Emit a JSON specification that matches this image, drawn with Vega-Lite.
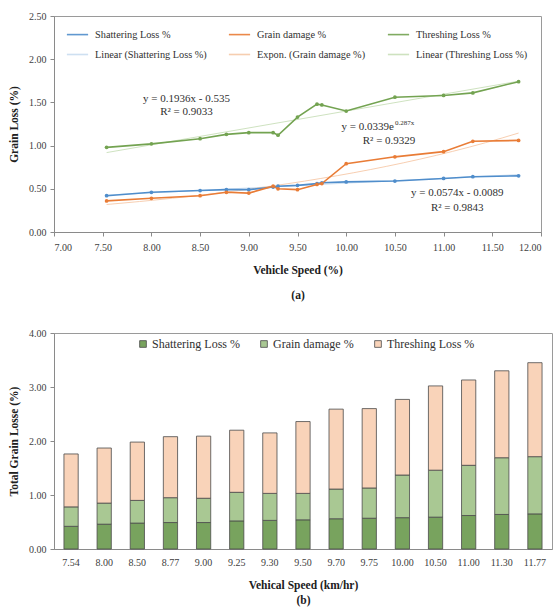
{
  "$schema": "https://vega.github.io/schema/vega-lite/v6.json",
  "padding": {"left": 8, "top": 10, "right": 1, "bottom": 4},
  "config": {
    "font": "Liberation Serif, Times New Roman, serif",
    "view": {"stroke": "#9a9a9a", "strokeWidth": 1},
    "text": {"font": "Liberation Serif, Times New Roman, serif", "fontWeight": "normal"},
    "axis": {
      "grid": false,
      "labelFont": "Liberation Serif, Times New Roman, serif",
      "labelFontSize": 10,
      "labelColor": "#404040",
      "titleFont": "Liberation Serif, Times New Roman, serif",
      "titleFontSize": 11.5,
      "titleFontWeight": "bold",
      "titleColor": "#202020",
      "domainColor": "#8a8a8a",
      "tickColor": "#8a8a8a",
      "tickSize": 4
    },
    "legend": {"labelFont": "Liberation Serif, Times New Roman, serif", "labelFontSize": 10.3, "labelColor": "#303030"}
  },
  "resolve": {"scale": {"color": "independent"}, "legend": {"color": "independent"}},
  "datasets": {
    "loss": [
      {"speed": 7.54, "series": "Shattering Loss %", "value": 0.42},
      {"speed": 8.00, "series": "Shattering Loss %", "value": 0.46},
      {"speed": 8.50, "series": "Shattering Loss %", "value": 0.48},
      {"speed": 8.77, "series": "Shattering Loss %", "value": 0.49},
      {"speed": 9.00, "series": "Shattering Loss %", "value": 0.49},
      {"speed": 9.25, "series": "Shattering Loss %", "value": 0.52},
      {"speed": 9.30, "series": "Shattering Loss %", "value": 0.53},
      {"speed": 9.50, "series": "Shattering Loss %", "value": 0.54},
      {"speed": 9.70, "series": "Shattering Loss %", "value": 0.56},
      {"speed": 9.75, "series": "Shattering Loss %", "value": 0.57},
      {"speed": 10.00, "series": "Shattering Loss %", "value": 0.58},
      {"speed": 10.50, "series": "Shattering Loss %", "value": 0.59},
      {"speed": 11.00, "series": "Shattering Loss %", "value": 0.62},
      {"speed": 11.30, "series": "Shattering Loss %", "value": 0.64},
      {"speed": 11.77, "series": "Shattering Loss %", "value": 0.65},
      {"speed": 7.54, "series": "Grain damage %", "value": 0.36},
      {"speed": 8.00, "series": "Grain damage %", "value": 0.39},
      {"speed": 8.50, "series": "Grain damage %", "value": 0.42},
      {"speed": 8.77, "series": "Grain damage %", "value": 0.46},
      {"speed": 9.00, "series": "Grain damage %", "value": 0.45},
      {"speed": 9.25, "series": "Grain damage %", "value": 0.53},
      {"speed": 9.30, "series": "Grain damage %", "value": 0.50},
      {"speed": 9.50, "series": "Grain damage %", "value": 0.49},
      {"speed": 9.70, "series": "Grain damage %", "value": 0.55},
      {"speed": 9.75, "series": "Grain damage %", "value": 0.56},
      {"speed": 10.00, "series": "Grain damage %", "value": 0.79},
      {"speed": 10.50, "series": "Grain damage %", "value": 0.87},
      {"speed": 11.00, "series": "Grain damage %", "value": 0.93},
      {"speed": 11.30, "series": "Grain damage %", "value": 1.05},
      {"speed": 11.77, "series": "Grain damage %", "value": 1.06},
      {"speed": 7.54, "series": "Threshing  Loss %", "value": 0.98},
      {"speed": 8.00, "series": "Threshing  Loss %", "value": 1.02},
      {"speed": 8.50, "series": "Threshing  Loss %", "value": 1.08},
      {"speed": 8.77, "series": "Threshing  Loss %", "value": 1.13},
      {"speed": 9.00, "series": "Threshing  Loss %", "value": 1.15},
      {"speed": 9.25, "series": "Threshing  Loss %", "value": 1.15},
      {"speed": 9.30, "series": "Threshing  Loss %", "value": 1.12},
      {"speed": 9.50, "series": "Threshing  Loss %", "value": 1.33},
      {"speed": 9.70, "series": "Threshing  Loss %", "value": 1.48},
      {"speed": 9.75, "series": "Threshing  Loss %", "value": 1.47},
      {"speed": 10.00, "series": "Threshing  Loss %", "value": 1.40},
      {"speed": 10.50, "series": "Threshing  Loss %", "value": 1.56},
      {"speed": 11.00, "series": "Threshing  Loss %", "value": 1.58},
      {"speed": 11.30, "series": "Threshing  Loss %", "value": 1.61},
      {"speed": 11.77, "series": "Threshing  Loss %", "value": 1.74}
    ]
  },
  "spacing": 26,
  "vconcat": [
    {
      "width": 487,
      "height": 216,
      "data": {"name": "loss"},
      "encoding": {
        "x": {
          "field": "speed", "type": "quantitative",
          "scale": {"domain": [7, 12], "nice": false, "zero": false},
          "axis": {"values": [7, 7.5, 8, 8.5, 9, 9.5, 10, 10.5, 11, 11.5, 12], "format": ".2f", "labelPadding": 6,
                   "title": ["Vehicle Speed (%)", "(a)"], "titleLineHeight": 25, "titlePadding": 12}
        },
        "y": {
          "field": "value", "type": "quantitative",
          "scale": {"domain": [0, 2.5], "nice": false},
          "axis": {"values": [0, 0.5, 1, 1.5, 2, 2.5], "format": ".2f", "title": "Grain Loss (%)", "titlePadding": 9, "labelPadding": 4}
        }
      },
      "layer": [
        {
          "transform": [{"filter": "datum.series === 'Shattering Loss %'"}, {"regression": "value", "on": "speed", "method": "linear", "extent": [7.54, 11.77]}],
          "mark": {"type": "line", "strokeWidth": 1, "opacity": 0.9},
          "encoding": {"color": {"datum": "Linear (Shattering Loss %)"}}
        },
        {
          "transform": [{"filter": "datum.series === 'Grain damage %'"}, {"regression": "value", "on": "speed", "method": "exp", "extent": [7.54, 11.77]}],
          "mark": {"type": "line", "strokeWidth": 1, "opacity": 0.9},
          "encoding": {"color": {"datum": "Expon. (Grain damage %)"}}
        },
        {
          "transform": [{"filter": "datum.series === 'Threshing  Loss %'"}, {"regression": "value", "on": "speed", "method": "linear", "extent": [7.54, 11.77]}],
          "mark": {"type": "line", "strokeWidth": 1, "opacity": 0.9},
          "encoding": {"color": {"datum": "Linear (Threshing  Loss %)"}}
        },
        {
          "mark": {"type": "line", "strokeWidth": 1.6, "point": {"filled": true, "size": 14}},
          "encoding": {
            "color": {
              "field": "series", "type": "nominal",
              "scale": {
                "domain": ["Shattering Loss %", "Grain damage %", "Threshing  Loss %", "Linear (Shattering Loss %)", "Expon. (Grain damage %)", "Linear (Threshing  Loss %)"],
                "range": ["#4F8DCB", "#E97C36", "#73A351", "#C9DDF0", "#F6C9A8", "#C9DFB9"]
              },
              "legend": {
                "title": null, "orient": "none", "legendX": 12, "legendY": 7, "columns": 3, "direction": "horizontal",
                "symbolType": "stroke", "symbolSize": 450, "symbolStrokeWidth": 1.6,
                "columnPadding": 18, "rowPadding": 3, "labelOffset": 6
              }
            }
          }
        },
        {
          "transform": [{"filter": "datum.series === 'Shattering Loss %' && datum.speed === 7.54"}],
          "mark": {"type": "text", "text": ["y = 0.1936x - 0.535", "R² = 0.9033"], "fontSize": 11, "fontWeight": "normal", "lineHeight": 13, "color": "#303030"},
          "encoding": {"x": {"datum": 8.36}, "y": {"datum": 1.54}}
        },
        {
          "transform": [{"filter": "datum.series === 'Shattering Loss %' && datum.speed === 7.54"}],
          "mark": {"type": "text", "text": "y = 0.0339e", "align": "right", "fontSize": 11, "fontWeight": "normal", "color": "#303030"},
          "encoding": {"x": {"datum": 10.49}, "y": {"datum": 1.215}}
        },
        {
          "transform": [{"filter": "datum.series === 'Shattering Loss %' && datum.speed === 7.54"}],
          "mark": {"type": "text", "text": "0.287x", "align": "left", "fontSize": 7, "fontWeight": "normal", "dx": 1, "color": "#303030"},
          "encoding": {"x": {"datum": 10.49}, "y": {"datum": 1.265}}
        },
        {
          "transform": [{"filter": "datum.series === 'Shattering Loss %' && datum.speed === 7.54"}],
          "mark": {"type": "text", "text": "R² = 0.9329", "fontSize": 11, "fontWeight": "normal", "color": "#303030"},
          "encoding": {"x": {"datum": 10.44}, "y": {"datum": 1.05}}
        },
        {
          "transform": [{"filter": "datum.series === 'Shattering Loss %' && datum.speed === 7.54"}],
          "mark": {"type": "text", "text": ["y = 0.0574x - 0.0089", "R² = 0.9843"], "fontSize": 11, "fontWeight": "normal", "lineHeight": 15, "color": "#303030"},
          "encoding": {"x": {"datum": 11.14}, "y": {"datum": 0.45}}
        }
      ]
    },
    {
      "width": 498,
      "height": 216,
      "data": {"name": "loss"},
      "mark": {"type": "bar", "stroke": "#4a4a4a", "strokeWidth": 0.8},
      "encoding": {
        "x": {
          "field": "speed", "type": "ordinal",
          "scale": {"paddingInner": 0.57, "paddingOuter": 0.3},
          "axis": {"format": ".2f", "formatType": "number", "labelAngle": 0, "ticks": false, "labelPadding": 8,
                   "title": ["Vehical Speed (km/hr)", "(b)"], "titleLineHeight": 15, "titlePadding": 12}
        },
        "y": {
          "field": "value", "type": "quantitative", "stack": "zero",
          "scale": {"domain": [0, 4], "nice": false},
          "axis": {"values": [0, 1, 2, 3, 4], "format": ".2f", "title": "Total Grain Losse (%)", "titlePadding": 9, "labelPadding": 4}
        },
        "order": {"field": "speed", "type": "quantitative"},
        "color": {
          "field": "series", "type": "nominal",
          "scale": {
            "domain": ["Shattering Loss %", "Grain damage %", "Threshing  Loss %"],
            "range": ["#78A35E", "#A9C893", "#F9D3B9"]
          },
          "legend": {
            "title": null, "orient": "none", "legendX": 83, "legendY": 5, "direction": "horizontal",
            "symbolType": "square", "symbolSize": 45, "symbolStrokeColor": "#4a4a4a", "symbolStrokeWidth": 0.8,
            "labelFontSize": 12, "columnPadding": 18, "labelOffset": 3
          }
        }
      }
    }
  ]
}
